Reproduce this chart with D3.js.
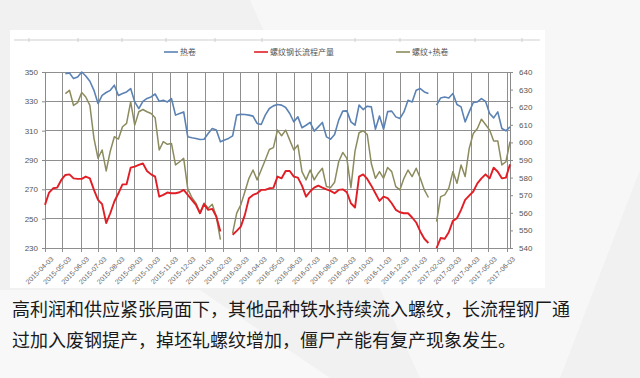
<!DOCTYPE html>
<html>
<head>
<meta charset="utf-8">
<script src="https://cdn.jsdelivr.net/npm/d3@7"></script>
<style>
  body { margin: 0; background: #f3f3f3; }
  svg { display: block; }
</style>
</head>
<body>
<div id="chart"></div>
<script>
// weekly data, first week 2015-04-03
const startDate = "2015-04-03";
const tickLabels = ["2015-04-03","2015-05-03","2015-06-03","2015-07-03","2015-08-03","2015-09-03",
  "2015-10-03","2015-11-03","2015-12-03","2016-01-03","2016-02-03","2016-03-03","2016-04-03",
  "2016-05-03","2016-06-03","2016-07-03","2016-08-03","2016-09-03","2016-10-03","2016-11-03",
  "2016-12-03","2017-01-03","2017-02-03","2017-03-03","2017-04-03","2017-05-03","2017-06-03"];
const leftTicks = [230, 250, 270, 290, 310, 330, 350];
const rightTicks = [540, 550, 560, 570, 580, 590, 600, 610, 620, 630, 640];
const seriesNames = ["热卷", "螺纹钢长流程产量", "螺纹+热卷"];

// 热卷 (left axis)
const hotCoil = [null,null,null,null,null,
  348.9,349.3,345.5,346.6,350,347.3,343.7,337.5,328.5,334.1,
  336,337.5,341,334,335.3,336.4,338.7,329.6,325,330,
  332,333,335,330,330.7,329.6,331.9,320.6,321.7,322.8,
  305.8,305.2,304.7,304,304.2,308.1,311.5,310.4,302.4,303.6,
  304.7,306.5,320.6,321.2,321,320.6,319.9,314.9,314.2,320.6,
  325.1,326.9,327.8,327.4,325.8,321.7,316,319.4,312,313.7,
  315.6,309.7,312.6,315.6,305.8,304.2,307.4,317.2,323.3,323.5,
  316,313.7,327.4,324.4,326.7,326.2,311,320,311,323,
  323.3,319.4,318.3,322.8,330.7,329.6,337.5,338.7,336.4,335.3,
  null,327.4,332.3,333,332.3,335.3,327.8,326.2,316,322.8,
  329.2,329.6,331.9,330,321.7,318.7,322.8,311.5,309.9,312.6];

// 螺纹钢长流程产量 (left axis)
const rebarOutput = [259.4,267.8,270.7,271.2,276.4,
  279.8,280.2,277.5,277.1,277.1,278.7,277.5,269.6,262.8,259.9,
  247,253.7,261.7,267.3,273.4,273.4,284.8,285.5,286.6,287.7,
  282.5,280.2,278.7,265,266.2,267.8,267.3,267.3,268,269.6,
  266.2,262.8,259.4,253.7,259.9,256,256.7,251.5,241.3,null,
  null,239,241.7,244.6,252.6,263.9,266.2,267.3,269.6,269.6,
  270.7,271,278.7,277.5,282.5,282.5,278.7,278,272.5,265,
  268.5,271.2,272.5,271.2,270,268.9,267.3,269.6,270,268,
  260.5,257.6,278.7,280.2,277.1,272.5,267.3,262.1,265,264,
  260.5,256,254.4,253.7,253.7,250.8,247.4,241.3,236.3,233.4,
  null,230,236.8,236.3,240.8,248.5,250.3,256,262.8,265.7,
  268.5,274.1,277.5,280.2,277.5,284.8,282,277.5,278,287];

// 螺纹+热卷 (right axis)
const rebarPlusCoil = [null,null,null,null,null,
  627.7,629.6,621,622.6,628.3,625.8,621,602.3,591,595.7,
  583.8,595,603.2,601.9,608.9,610.8,623,609.8,617.4,618.7,
  617.4,616.4,614,595.7,600.4,598.9,599.4,587.2,589,590.9,
  573.6,568.7,565.5,559.8,565.5,562.6,564.9,557.9,544.7,null,
  null,548.5,559.8,564.5,572,579.6,584.3,578.7,584.3,590,
  596,597,607,603.8,607,601.3,595.7,598.5,583.4,578.7,
  584.3,578.7,582.5,585.3,574.9,574.3,577.4,589,594.3,590.9,
  574.3,595,605.5,606.6,604.5,588,579.6,583.4,579.6,585.7,
  583.4,574.9,573,579.6,584.3,580.6,585.3,579.6,573,568.7,
  null,555,569.2,570.2,574,583.4,576.8,587.2,580.6,596.6,
  605.1,607.9,613.2,610.2,607,600.8,600.8,587.2,589,600.4];

const noteLines = [
  "高利润和供应紧张局面下，其他品种铁水持续流入螺纹，长流程钢厂通",
  "过加入废钢提产，掉坯轧螺纹增加，僵尸产能有复产现象发生。"
];

const W = 640, H = 378;
const plot = { left: 45, right: 510, top: 72, bottom: 248 };
const parse = d3.timeParse("%Y-%m-%d");
const t0 = parse(startDate);
const dates = hotCoil.map((_, i) => d3.timeDay.offset(t0, i * 7));

const svg = d3.select("#chart").append("svg")
  .attr("width", W).attr("height", H);

// background pattern
svg.append("rect").attr("width", W).attr("height", H).attr("fill", "#f1f1f1");
svg.append("path").attr("d", "M250,0 L640,0 L640,170 L560,378 L420,378 Z").attr("fill", "#f7f7f7");
svg.append("path").attr("d", "M0,290 L200,290 L330,378 L0,378 Z").attr("fill", "#f8f8f8");
svg.append("rect").attr("x", 10).attr("y", 30).attr("width", 535).attr("height", 258).attr("fill", "#ffffff");

// faint leftover axis at the top
svg.append("line").attr("x1", 14).attr("x2", 540).attr("y1", 40).attr("y2", 40)
  .attr("stroke", "#cfcfcf").attr("stroke-width", 1);
[29, 78, 122, 166, 215, 262, 355, 400, 475, 522].forEach(x => {
  svg.append("line").attr("x1", x).attr("x2", x).attr("y1", 38).attr("y2", 42)
    .attr("stroke", "#cfcfcf");
});

const x = d3.scaleTime()
  .domain([t0, dates[dates.length - 1]])
  .range([plot.left, plot.right]);
const yL = d3.scaleLinear().domain([230, 350]).range([plot.bottom, plot.top]);
const yR = d3.scaleLinear().domain([540, 640]).range([plot.bottom, plot.top]);

const tickDates = tickLabels.map(parse);
const gridColor = "#8f8f8f";

// horizontal grid
svg.append("g").selectAll("line").data(leftTicks).join("line")
  .attr("x1", plot.left).attr("x2", plot.right)
  .attr("y1", d => yL(d)).attr("y2", d => yL(d))
  .attr("stroke", gridColor).attr("stroke-width", 1).attr("shape-rendering", "crispEdges");

// vertical grid (monthly)
svg.append("g").selectAll("line").data(tickDates).join("line")
  .attr("x1", d => Math.round(x(d)) + 0.5).attr("x2", d => Math.round(x(d)) + 0.5)
  .attr("y1", plot.top).attr("y2", plot.bottom + 4)
  .attr("stroke", gridColor).attr("stroke-width", 1);

// left axis
const axL = svg.append("g").attr("transform", `translate(${plot.left},0)`)
  .call(d3.axisLeft(yL).tickValues(leftTicks).tickSize(3).tickPadding(4));
// right axis
const axR = svg.append("g").attr("transform", `translate(${plot.right},0)`)
  .call(d3.axisRight(yR).tickValues(rightTicks).tickSize(3).tickPadding(6));
[axL, axR].forEach(g => {
  g.select(".domain").attr("stroke", "#8a8a8a");
  g.selectAll(".tick line").attr("stroke", "#8a8a8a");
  g.selectAll("text").attr("fill", "#555").style("font-family", "Liberation Sans, Arial, sans-serif")
    .style("font-size", "8px");
});

// bottom axis labels
const axB = svg.append("g").attr("transform", `translate(0,${plot.bottom})`)
  .call(d3.axisBottom(x).tickValues(tickDates).tickSize(4).tickFormat(d3.timeFormat("%Y-%m-%d")));
axB.select(".domain").remove();
axB.selectAll(".tick line").remove();
axB.selectAll("text")
  .attr("fill", "#666")
  .style("font-family", "Liberation Sans, Arial, sans-serif")
  .style("font-size", "7px")
  .style("text-anchor", "end")
  .attr("dy", "0.3em")
  .attr("transform", "translate(2,5) rotate(-45)");

// lines
function drawLine(values, scale, color, width) {
  const line = d3.line()
    .defined(d => d != null)
    .x((d, i) => x(dates[i]))
    .y(d => scale(d));
  svg.append("path")
    .datum(values)
    .attr("fill", "none")
    .attr("stroke", color)
    .attr("stroke-width", width)
    .attr("stroke-linejoin", "round")
    .attr("d", line);
}
const colors = ["#5b82b4", "#e11d25", "#8c8b5e"];
drawLine(hotCoil, yL, colors[0], 1.6);
drawLine(rebarPlusCoil, yR, colors[2], 1.5);
drawLine(rebarOutput, yL, colors[1], 1.9);

// legend
const legendX = [164, 254, 396];
const legend = svg.append("g");
seriesNames.forEach((name, i) => {
  legend.append("line")
    .attr("x1", legendX[i]).attr("x2", legendX[i] + 14)
    .attr("y1", 52).attr("y2", 52)
    .attr("stroke", colors[i]).attr("stroke-width", 1.6);
  legend.append("text")
    .attr("x", legendX[i] + 16).attr("y", 55)
    .attr("fill", "#555")
    .style("font-family", "Noto Sans CJK SC, sans-serif")
    .style("font-size", "8px")
    .text(name);
});

// note text
svg.append("g").selectAll("text").data(noteLines).join("text")
  .attr("x", 12)
  .attr("y", (d, i) => 316 + i * 31)
  .attr("fill", "#1a1a1a")
  .style("font-family", "Noto Sans CJK SC, sans-serif")
  .style("font-size", "18px")
  .text(d => d);
</script>
</body>
</html>
